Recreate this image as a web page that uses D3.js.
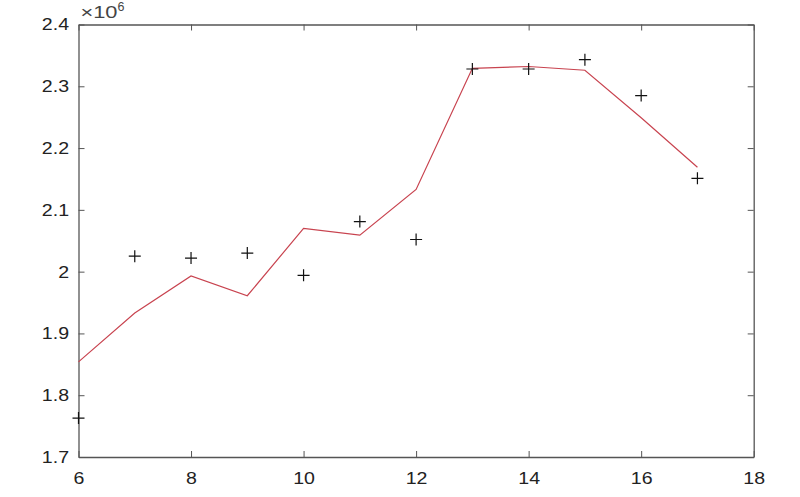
<!DOCTYPE html>
<html><head><meta charset="utf-8">
<script src="https://cdn.jsdelivr.net/npm/d3@7"></script>
<style>body{margin:0;background:#fff}svg{display:block}text{font-family:"Liberation Sans",Arial,sans-serif}</style>
</head><body><svg id="c" width="800" height="497"></svg>
<script>
const xs = [6,7,8,9,10,11,12,13,14,15,16,17];
const observed = [1.763,2.025,2.022,2.030,1.994,2.081,2.052,2.328,2.328,2.343,2.285,2.151];
const fitted = [1.854,1.933,1.993,1.961,2.070,2.059,2.133,2.329,2.332,2.326,2.249,2.169];
const xTicks = [6,8,10,12,14,16,18];
const yTicks = [1.7,1.8,1.9,2.0,2.1,2.2,2.3,2.4];
const yTickLabels = ["1.7","1.8","1.9","2","2.1","2.2","2.3","2.4"];

const svg = d3.select("#c");
const L=78.5,R=753.7,T=24.5,B=457;
const x = d3.scaleLinear().domain([6,18]).range([L,R]);
const y = d3.scaleLinear().domain([1.7,2.4]).range([B,T]);
const axc = "#555";
const tickLen = 6;
const fs = 17;

const gB = svg.append("g").attr("transform",`translate(0,${B})`)
  .call(d3.axisBottom(x).tickValues(xTicks).tickFormat(d3.format("d")).tickSizeInner(-tickLen).tickSizeOuter(0).tickPadding(15));
const gT = svg.append("g").attr("transform",`translate(0,${T})`)
  .call(d3.axisTop(x).tickValues(xTicks).tickFormat("").tickSizeInner(-tickLen).tickSizeOuter(0));
const gL = svg.append("g").attr("transform",`translate(${L},0)`)
  .call(d3.axisLeft(y).tickValues(yTicks).tickFormat((d,i)=>yTickLabels[i]).tickSizeInner(-tickLen).tickSizeOuter(0).tickPadding(9.5));
const gR = svg.append("g").attr("transform",`translate(${R},0)`)
  .call(d3.axisRight(y).tickValues(yTicks).tickFormat("").tickSizeInner(-tickLen).tickSizeOuter(0));
[gB,gT,gL,gR].forEach(g=>{
  g.select(".domain").attr("stroke",axc).attr("stroke-width",1.3);
  g.selectAll(".tick line").attr("stroke",axc);
  g.selectAll(".tick text").attr("fill","#222").attr("font-size",fs);
});
gB.selectAll(".tick text").attr("dy","0.71em");
[gL,gB].forEach(g=>g.selectAll(".tick text").each(function(){
  const w=this.getComputedTextLength();
  d3.select(this).attr("textLength", w*1.15).attr("lengthAdjust","spacingAndGlyphs");
}));

const mt = svg.append("text").attr("x",L+2).attr("y",T-6.5).attr("fill","#444").attr("font-size",16);
mt.append("tspan").text("×10").attr("textLength",37).attr("lengthAdjust","spacingAndGlyphs");
mt.append("tspan").text("6").attr("dy",-7).attr("font-size",12.5);

svg.append("path").datum(xs.map((d,i)=>[d,fitted[i]]))
  .attr("fill","none").attr("stroke","#c8434f").attr("stroke-width",1.2)
  .attr("d",d3.line().x(d=>x(d[0])).y(d=>y(d[1])));

const s = 6;
const mk = svg.append("g").attr("stroke","#111").attr("stroke-width",1.2);
xs.forEach((d,i)=>{
  const px=x(d), py=y(observed[i]);
  mk.append("path").attr("d",`M${px-s},${py}H${px+s}M${px},${py-s}V${py+s}`);
});
</script></body></html>
